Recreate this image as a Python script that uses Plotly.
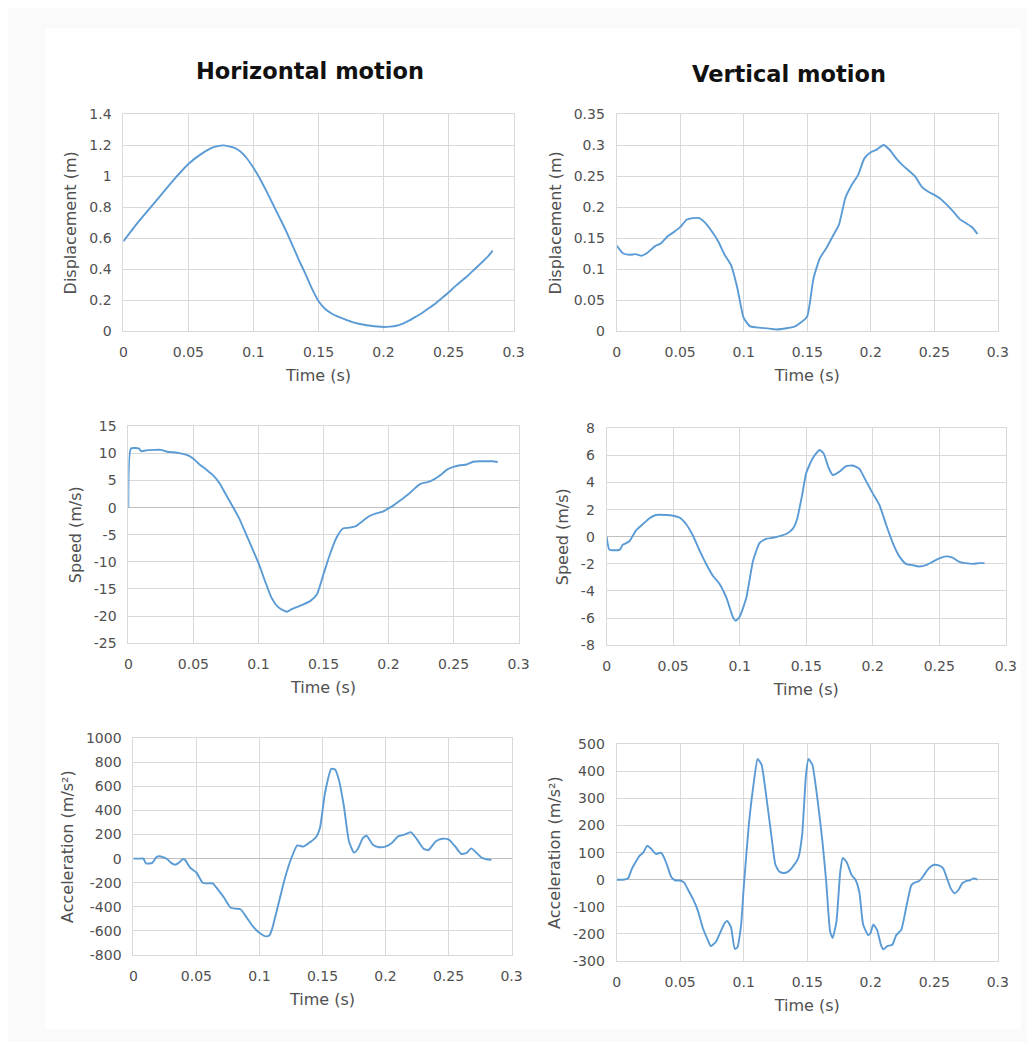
import plotly.graph_objects as go

# ---------------- data ----------------
# Horizontal displacement (m)
t_hd = [0, 0.01, 0.02, 0.03, 0.04, 0.05, 0.06, 0.07, 0.077, 0.085, 0.09, 0.095, 0.1,
        0.105, 0.11, 0.115, 0.12, 0.125, 0.13, 0.135, 0.14, 0.145, 0.15, 0.155, 0.16,
        0.165, 0.17, 0.175, 0.18, 0.185, 0.19, 0.195, 0.2, 0.205, 0.21, 0.215, 0.22,
        0.225, 0.23, 0.235, 0.24, 0.245, 0.25, 0.255, 0.26, 0.265, 0.27, 0.275, 0.28,
        0.284]
hd = [0.58, 0.69, 0.79, 0.89, 0.99, 1.08, 1.145, 1.19, 1.20, 1.185, 1.16, 1.115, 1.055,
      0.985, 0.905, 0.82, 0.735, 0.65, 0.555, 0.46, 0.37, 0.275, 0.195, 0.145, 0.115,
      0.095, 0.078, 0.062, 0.05, 0.042, 0.036, 0.031, 0.028, 0.03, 0.036, 0.05, 0.07,
      0.095, 0.12, 0.15, 0.18, 0.215, 0.25, 0.29, 0.325, 0.36, 0.40, 0.44, 0.48, 0.52]

# Vertical displacement (m)
t_vd = [0, 0.005, 0.01, 0.015, 0.02, 0.025, 0.03, 0.035, 0.04, 0.045, 0.05, 0.055, 0.06,
        0.065, 0.07, 0.075, 0.08, 0.085, 0.09, 0.095, 0.1, 0.105, 0.11, 0.12, 0.125, 0.13,
        0.14, 0.145, 0.15, 0.155, 0.16, 0.165, 0.17, 0.175, 0.18, 0.185, 0.19, 0.195, 0.2,
        0.205, 0.21, 0.215, 0.22, 0.225, 0.23, 0.235, 0.24, 0.245, 0.25, 0.255, 0.26,
        0.265, 0.27, 0.275, 0.28, 0.284]
vd = [0.1385, 0.126, 0.1235, 0.1245, 0.122, 0.128, 0.137, 0.142, 0.153, 0.16, 0.168,
      0.18, 0.1825, 0.1825, 0.1745, 0.161, 0.145, 0.1235, 0.107, 0.07, 0.0215, 0.008,
      0.0064, 0.0043, 0.003, 0.0038, 0.0075, 0.014, 0.024, 0.086, 0.118, 0.134, 0.153,
      0.172, 0.215, 0.236, 0.252, 0.279, 0.289, 0.2935, 0.3006, 0.2925, 0.279, 0.268,
      0.259, 0.2496, 0.2335, 0.2255, 0.22, 0.2136, 0.204, 0.193, 0.181, 0.1745, 0.1675,
      0.157]

# Horizontal speed (m/s)
t_hs = [0, 0.002, 0.008, 0.01, 0.015, 0.02, 0.025, 0.03, 0.035, 0.04, 0.045, 0.05, 0.055,
        0.06, 0.065, 0.07, 0.075, 0.08, 0.085, 0.09, 0.095, 0.1, 0.105, 0.11, 0.115, 0.12,
        0.122, 0.125, 0.13, 0.135, 0.14, 0.145, 0.15, 0.155, 0.16, 0.165, 0.17, 0.175,
        0.18, 0.185, 0.19, 0.195, 0.2, 0.205, 0.21, 0.215, 0.22, 0.225, 0.23, 0.235, 0.24,
        0.245, 0.25, 0.255, 0.26, 0.265, 0.27, 0.275, 0.28, 0.284]
hs = [0.0, 10.9, 10.9, 10.4, 10.6, 10.65, 10.65, 10.3, 10.2, 10.0, 9.7, 9.0, 7.9, 7.0,
      6.0, 4.55, 2.4, 0.3, -1.9, -4.6, -7.4, -10.2, -13.5, -16.6, -18.3, -19.05, -19.2,
      -18.8, -18.3, -17.8, -17.2, -16.0, -12.3, -8.6, -5.55, -3.85, -3.7, -3.4, -2.5,
      -1.6, -1.1, -0.8, -0.15, 0.6, 1.5, 2.4, 3.5, 4.4, 4.7, 5.2, 6.0, 7.0, 7.5, 7.8,
      7.95, 8.45, 8.55, 8.55, 8.55, 8.4]

# Vertical speed (m/s)
t_vs = [0, 0.002, 0.005, 0.01, 0.012, 0.017, 0.022, 0.027, 0.032, 0.037, 0.045, 0.05,
        0.055, 0.06, 0.065, 0.07, 0.075, 0.08, 0.085, 0.09, 0.095, 0.097, 0.1, 0.105, 0.11,
        0.115, 0.12, 0.125, 0.13, 0.135, 0.14, 0.143, 0.147, 0.15, 0.155, 0.16, 0.163,
        0.167, 0.17, 0.175, 0.18, 0.185, 0.19, 0.195, 0.2, 0.205, 0.21, 0.215, 0.22,
        0.225, 0.23, 0.235, 0.24, 0.245, 0.25, 0.255, 0.26, 0.265, 0.27, 0.275, 0.28,
        0.284]
vs = [0.0, -0.95, -1.0, -0.95, -0.6, -0.35, 0.45, 0.9, 1.35, 1.6, 1.6, 1.55, 1.4, 0.9,
      0.05, -1.05, -2.05, -2.9, -3.5, -4.5, -5.95, -6.2, -5.9, -4.5, -1.8, -0.45, -0.15,
      -0.08, 0.04, 0.2, 0.6, 1.25, 3.1, 4.7, 5.8, 6.4, 6.15, 5.05, 4.55, 4.8, 5.2, 5.25,
      5.0, 4.1, 3.2, 2.35, 0.9, -0.45, -1.45, -2.0, -2.1, -2.2, -2.1, -1.85, -1.6,
      -1.45, -1.55, -1.85, -1.95, -2.0, -1.95, -1.95]

# Horizontal acceleration (m/s²)
t_ha = [0, 0.005, 0.008, 0.01, 0.015, 0.018, 0.02, 0.023, 0.027, 0.03, 0.033, 0.036,
        0.039, 0.041, 0.045, 0.05, 0.055, 0.06, 0.063, 0.067, 0.072, 0.077, 0.081, 0.085,
        0.09, 0.095, 0.1, 0.105, 0.108, 0.11, 0.115, 0.12, 0.125, 0.13, 0.135, 0.14,
        0.145, 0.148, 0.152, 0.157, 0.16, 0.163, 0.167, 0.171, 0.175, 0.178, 0.182, 0.185,
        0.19, 0.195, 0.2, 0.205, 0.21, 0.215, 0.22, 0.225, 0.23, 0.234, 0.24, 0.245,
        0.25, 0.255, 0.26, 0.264, 0.268, 0.272, 0.276, 0.28, 0.284]
ha = [0, 0, 0, -40, -35, 10, 20, 15, -5, -35, -50, -35, -5, -10, -75, -115, -200, -205,
      -205, -255, -325, -405, -415, -420, -490, -565, -615, -645, -635, -585, -380, -170,
      -5, 110, 100, 135, 180, 255, 545, 745, 740, 655, 435, 145, 50, 80, 170, 190, 115,
      95, 100, 130, 185, 200, 220, 160, 85, 70, 145, 165, 160, 105, 40, 45, 85, 50, 10,
      -5, -10]

# Vertical acceleration (m/s²)
t_va = [0, 0.005, 0.009, 0.012, 0.015, 0.018, 0.021, 0.024, 0.027, 0.031, 0.035, 0.037,
        0.04, 0.043, 0.046, 0.05, 0.053, 0.056, 0.06, 0.064, 0.068, 0.072, 0.074, 0.078,
        0.082, 0.085, 0.087, 0.09, 0.093, 0.095, 0.098, 0.1, 0.104, 0.108, 0.111, 0.114,
        0.118, 0.122, 0.125, 0.128, 0.131, 0.135, 0.139, 0.143, 0.146, 0.149, 0.151,
        0.154, 0.158, 0.162, 0.165, 0.168, 0.17, 0.173, 0.176, 0.178, 0.181, 0.185,
        0.188, 0.191, 0.194, 0.198, 0.2, 0.202, 0.205, 0.208, 0.21, 0.213, 0.217, 0.22,
        0.224, 0.228, 0.232, 0.235, 0.238, 0.241, 0.244, 0.247, 0.25, 0.254, 0.257, 0.26,
        0.263, 0.266, 0.269, 0.272, 0.275, 0.278, 0.281, 0.284]
va = [0, 0, 5, 40, 65, 88, 100, 125, 115, 95, 100, 85, 50, 10, -2, -3, -10, -35, -70,
      -115, -180, -225, -245, -230, -190, -160, -152, -175, -255, -250, -165, -30, 200,
      360, 445, 425, 300, 155, 55, 30, 25, 30, 50, 80, 165, 385, 445, 425, 300, 140, -10,
      -190, -215, -155, 30, 80, 65, 17, 0, -45, -165, -205, -195, -165, -185, -240, -257,
      -245, -240, -205, -185, -100, -20, -10, -5, 11, 32, 48, 55, 52, 42, 5, -32, -50,
      -38, -13, -5, -2, 5, 0]

# ---------------- axis ticks ----------------
x_ticks = [0, 0.05, 0.1, 0.15, 0.2, 0.25, 0.3]
x_labels = ["0", "0.05", "0.1", "0.15", "0.2", "0.25", "0.3"]
hd_ticks = [0, 0.2, 0.4, 0.6, 0.8, 1.0, 1.2, 1.4]
hd_labels = ["0", "0.2", "0.4", "0.6", "0.8", "1", "1.2", "1.4"]
vd_ticks = [0, 0.05, 0.1, 0.15, 0.2, 0.25, 0.3, 0.35]
vd_labels = ["0", "0.05", "0.1", "0.15", "0.2", "0.25", "0.3", "0.35"]
hs_ticks = [-25, -20, -15, -10, -5, 0, 5, 10, 15]
hs_labels = ["-25", "-20", "-15", "-10", "-5", "0", "5", "10", "15"]
vs_ticks = [-8, -6, -4, -2, 0, 2, 4, 6, 8]
vs_labels = ["-8", "-6", "-4", "-2", "0", "2", "4", "6", "8"]
ha_ticks = [-800, -600, -400, -200, 0, 200, 400, 600, 800, 1000]
ha_labels = ["-800", "-600", "-400", "-200", "0", "200", "400", "600", "800", "1000"]
va_ticks = [-300, -200, -100, 0, 100, 200, 300, 400, 500]
va_labels = ["-300", "-200", "-100", "0", "100", "200", "300", "400", "500"]

col_titles = ["Horizontal motion", "Vertical motion"]
x_title = "Time (s)"
y_titles = ["Displacement (m)", "Displacement (m)", "Speed (m/s)", "Speed (m/s)",
            "Acceleration (m/s²)", "Acceleration (m/s²)"]

# ---------------- figure ----------------
W, H = 1035, 1042
K, CX, CY = 0.985, 11.7, 14.6     # observed mapping figure px -> picture px
FONT = "DejaVu Sans"
LINE = "#5b9bd5"
GRID = "#d9d9d9"
TXT = "#505050"


def px(x):
    return ((x - CX) / K) / W


def py(y):
    return 1 - ((y - CY) / K) / H


# plot-area boxes in picture pixels: (left, right, top, bottom)
boxes = [(123, 513, 113, 330), (616, 997, 113, 330),
         (128, 518, 425, 642), (606, 1005, 427, 644),
         (133, 511, 737, 954), (616, 997, 743, 960)]

series = [(t_hd, hd, hd_ticks, hd_labels), (t_vd, vd, vd_ticks, vd_labels),
          (t_hs, hs, hs_ticks, hs_labels), (t_vs, vs, vs_ticks, vs_labels),
          (t_ha, ha, ha_ticks, ha_labels), (t_va, va, va_ticks, va_labels)]

fig = go.Figure()
layout = {}
for i, ((t, v, yt, yl), (l, r, tp, b)) in enumerate(zip(series, boxes)):
    n = "" if i == 0 else str(i + 1)
    fig.add_trace(go.Scatter(x=t, y=v, mode="lines", xaxis="x" + n, yaxis="y" + n,
                             line=dict(color=LINE, width=1.9, shape="spline", smoothing=0.5),
                             showlegend=False, hoverinfo="skip"))
    common = dict(showgrid=True, gridcolor=GRID, gridwidth=1,
                  showline=True, linecolor=GRID, linewidth=1, mirror=True,
                  ticks="outside", ticklen=8, tickcolor="rgba(0,0,0,0)",
                  tickfont=dict(family=FONT, size=14, color=TXT),
                  zeroline=True, zerolinecolor="#bfbfbf", zerolinewidth=1,
                  fixedrange=True)
    layout["xaxis" + n] = dict(domain=[px(l), px(r)], anchor="y" + n, range=[0, 0.3],
                               tickvals=x_ticks, ticktext=x_labels,
                               title=dict(text=x_title, standoff=10,
                                          font=dict(family=FONT, size=16, color=TXT)),
                               **common)
    layout["yaxis" + n] = dict(domain=[py(b), py(tp)], anchor="x" + n,
                               range=[yt[0], yt[-1]], tickvals=yt, ticktext=yl,
                               title=dict(text=y_titles[i], standoff=8,
                                          font=dict(family=FONT, size=16, color=TXT)),
                               **common)

annotations = [
    dict(text=col_titles[0], x=px(310), y=py(70), xref="paper", yref="paper",
         showarrow=False, xanchor="center", yanchor="middle",
         font=dict(family=FONT, size=22.5, color="#111111", weight="bold")),
    dict(text=col_titles[1], x=px(788), y=py(73), xref="paper", yref="paper",
         showarrow=False, xanchor="center", yanchor="middle",
         font=dict(family=FONT, size=22.5, color="#111111", weight="bold")),
]

fig.update_layout(width=W, height=H, margin=dict(l=0, r=0, t=0, b=0),
                  paper_bgcolor="#fafafa", plot_bgcolor="white",
                  font=dict(family=FONT, color=TXT),
                  annotations=annotations,
                  shapes=[dict(type="rect", xref="paper", yref="paper",
                               x0=px(45), x1=px(1020), y0=py(1028), y1=py(27),
                               fillcolor="white", line=dict(width=0), layer="below")],
                  **layout)

fig.write_html("out.html", config={"displayModeBar": False})
